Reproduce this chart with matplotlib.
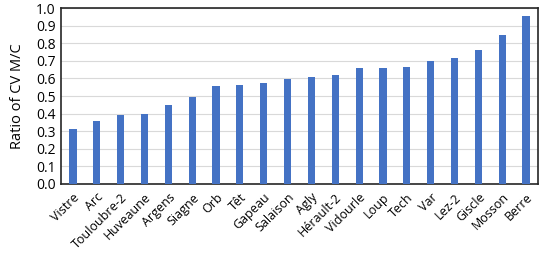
import numpy as np
import matplotlib
matplotlib.use('Agg')
import matplotlib.pyplot as plt

plt.rcParams['font.family'] = ['Open Sans', 'DejaVu Sans']

# Rivers and ratio of CV (M/C)
rivers = ['Vistre', 'Arc', 'Touloubre-2', 'Huveaune', 'Argens', 'Siagne', 'Orb',
          'Têt', 'Gapeau', 'Salaison', 'Agly', 'Hérault-2', 'Vidourle', 'Loup',
          'Tech', 'Var', 'Lez-2', 'Giscle', 'Mosson', 'Berre']
ratio = [0.31, 0.358, 0.39, 0.396, 0.449, 0.493, 0.557, 0.564, 0.572, 0.598,
         0.606, 0.617, 0.657, 0.657, 0.665, 0.699, 0.716, 0.76, 0.845, 0.955]
yticks = np.arange(0, 1.01, 0.1)

fig = plt.figure(figsize=(5.5, 2.54), dpi=100)
ax = fig.add_axes([0.111, 0.276, 0.867, 0.692])

x = np.arange(len(rivers))
ax.bar(x, ratio, width=0.3, color='#4472C4', zorder=3)

ax.set_xlim(-0.5, len(rivers) - 0.5)
ax.set_ylim(0, 1.0)
ax.set_yticks(yticks)
ax.set_yticklabels([f'{v:.1f}' for v in yticks], fontsize=10)
ax.set_xticks(x)
ax.set_xticklabels(rivers, rotation=45, ha='right', rotation_mode='anchor', fontsize=9)
ax.tick_params(axis='y', length=0, pad=4)
ax.tick_params(axis='x', length=0, pad=5)
ax.grid(axis='y', color='#D9D9D9', linewidth=0.8, zorder=0)
for s in ax.spines.values():
    s.set_color('#262626')
    s.set_linewidth(1.2)
ax.set_ylabel('Ratio of CV M/C', fontsize=10.5, labelpad=8)

fig.savefig('out.png', dpi=100)
